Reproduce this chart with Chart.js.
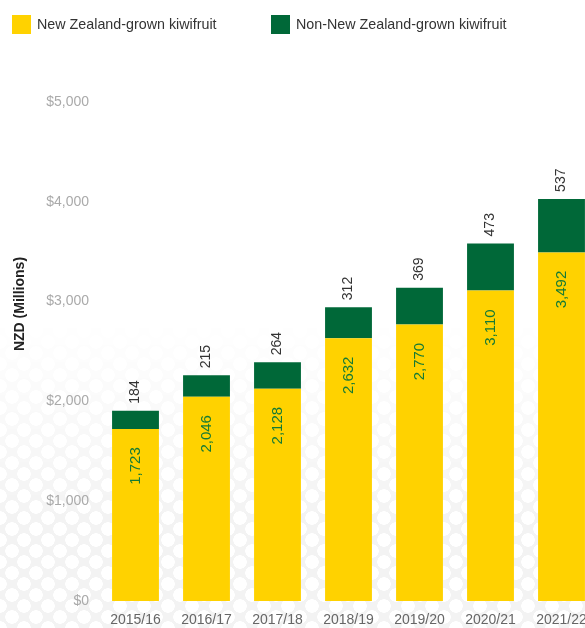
<!DOCTYPE html>
<html>
<head>
<meta charset="utf-8">
<script src="https://cdn.jsdelivr.net/npm/chart.js@4"></script>
<style>
  html, body { margin: 0; padding: 0; background: #fff; overflow: hidden; }
  #wrap { position: relative; width: 600px; height: 628px; }
  #dots {
    position: absolute; left: 0; top: 320px; width: 600px; height: 308px;
    background-color: #f3f3f3;
    background-image: radial-gradient(circle, #fff 6.5px, transparent 7px),
                      radial-gradient(circle, #fff 6.5px, transparent 7px);
    background-size: 24px 22px;
    background-position: 0 0, 12px 11px;
    -webkit-mask-image: linear-gradient(to bottom, transparent 0%, #000 65%);
    mask-image: linear-gradient(to bottom, transparent 0%, #000 65%);
  }
  canvas { position: absolute; left: 0; top: 0; }
  .leg { position: absolute; top: 15px; font: 14.3px "Liberation Sans", Arial, sans-serif; color: #333; line-height: 19px; white-space: nowrap; }
  .leg span { display: inline-block; width: 19px; height: 19px; vertical-align: top; margin-right: 6px; }
</style>
</head>
<body>
<div id="wrap">
  <div id="dots"></div>
  <canvas id="graph" width="600" height="628"></canvas>
  <div class="leg" style="left:12px"><span style="background:#FFD200"></span>New Zealand-grown kiwifruit</div>
  <div class="leg" style="left:271px"><span style="background:#006838"></span>Non-New Zealand-grown kiwifruit</div>
</div>
<script>
const seasons = ['2015/16', '2016/17', '2017/18', '2018/19', '2019/20', '2020/21', '2021/22'];
const nzGrown = [1723, 2046, 2128, 2632, 2770, 3110, 3492];
const nonNzGrown = [184, 215, 264, 312, 369, 473, 537];
const yTicks = [0, 1000, 2000, 3000, 4000, 5000];
const yTitle = 'NZD (Millions)';

const yellow = '#FFD200';
const green = '#006838';
const fontFamily = '"Liberation Sans", Arial, sans-serif';

// draws the rotated value labels on the bars, and the y axis title
const barLabels = {
    id: 'barLabels',
    afterDatasetsDraw(chart) {
        let ctx = chart.ctx;
        ctx.save();
        ctx.textBaseline = 'middle';
        chart.data.datasets.forEach(function (ds, i) {
            let meta = chart.getDatasetMeta(i);
            meta.data.forEach(function (bar, j) {
                let txt = ds.data[j].toLocaleString('en-US');
                ctx.save();
                if (i == 0) {
                    ctx.translate(bar.x, bar.y + 37);
                    ctx.rotate(-Math.PI / 2);
                    ctx.textAlign = 'center';
                    ctx.fillStyle = '#157a35';
                    ctx.font = '15px ' + fontFamily;
                } else {
                    ctx.translate(bar.x, bar.y - 7);
                    ctx.rotate(-Math.PI / 2);
                    ctx.textAlign = 'left';
                    ctx.fillStyle = '#333';
                    ctx.font = '14px ' + fontFamily;
                }
                ctx.fillText(txt, 0, 0);
                ctx.restore();
            });
        });

        // y title sits a bit above the middle of the plot in the original
        ctx.save();
        ctx.translate(20, 304);
        ctx.rotate(-Math.PI / 2);
        ctx.textAlign = 'center';
        ctx.fillStyle = '#222';
        ctx.font = 'bold 14px ' + fontFamily;
        ctx.fillText(yTitle, 0, 0);
        ctx.restore();

        ctx.restore();
    }
};

let graph = document.getElementById('graph').getContext('2d');
let displayedGraph = new Chart(graph, {
    type: 'bar',
    data: {
        labels: seasons,
        datasets: [
            {
                label: 'New Zealand-grown kiwifruit',
                data: nzGrown,
                backgroundColor: yellow
            },
            {
                label: 'Non-New Zealand-grown kiwifruit',
                data: nonNzGrown,
                backgroundColor: green
            }
        ]
    },
    options: {
        responsive: false,
        animation: false,
        layout: { padding: { top: 102, right: 3, bottom: 0, left: 0 } },
        plugins: {
            legend: { display: false },
            tooltip: { enabled: false }
        },
        datasets: {
            bar: { categoryPercentage: 1, barPercentage: 0.66 }
        },
        scales: {
            x: {
                stacked: true,
                grid: { display: false, drawTicks: false },
                border: { display: false },
                ticks: {
                    padding: 11,
                    color: '#666',
                    maxRotation: 0,
                    font: { family: fontFamily, size: 14 }
                },
                afterFit(scale) { scale.height = 27; }
            },
            y: {
                stacked: true,
                min: 0,
                max: 5000,
                afterBuildTicks(scale) {
                    scale.ticks = yTicks.map(function (v) { return { value: v }; });
                },
                grid: { display: false, drawTicks: false },
                border: { display: false },
                ticks: {
                    padding: 11,
                    color: '#aaa',
                    font: { family: fontFamily, size: 14 },
                    callback: function (v) { return '$' + v.toLocaleString('en-US'); }
                },
                afterFit(scale) { scale.width = 100; }
            }
        }
    },
    plugins: [barLabels]
});
</script>
</body>
</html>
